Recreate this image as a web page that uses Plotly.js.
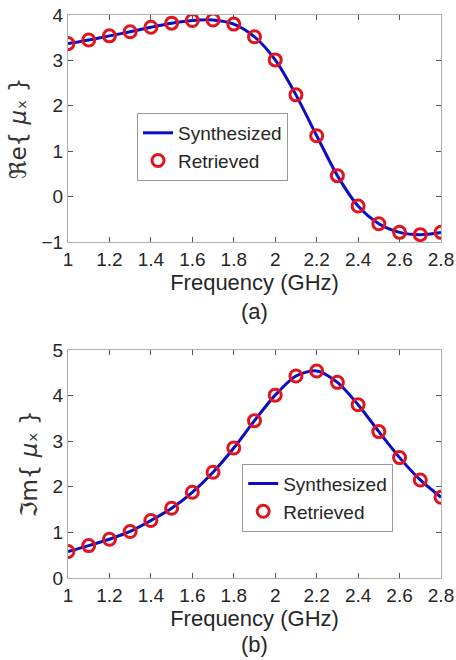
<!DOCTYPE html>
<html>
<head>
<meta charset="utf-8">
<script src="https://cdn.plot.ly/plotly-3.0.1.min.js"></script>
<style>html,body{margin:0;padding:0;background:#fff;}#chart{width:456px;height:660px;}</style>
</head>
<body>
<div id="chart"></div>
<script>
const freq = [1.0,1.1,1.2,1.3,1.4,1.5,1.6,1.7,1.8,1.9,2.0,2.1,2.2,2.3,2.4,2.5,2.6,2.7,2.8];
const reSynth = [3.37,3.45,3.54,3.63,3.73,3.82,3.88,3.89,3.80,3.52,3.01,2.24,1.34,0.46,-0.21,-0.60,-0.79,-0.84,-0.79];
const reRetr  = [3.37,3.45,3.54,3.63,3.73,3.82,3.88,3.89,3.80,3.52,3.01,2.24,1.34,0.46,-0.21,-0.60,-0.79,-0.84,-0.79];
const imSynth = [0.58,0.71,0.85,1.02,1.26,1.53,1.88,2.32,2.85,3.45,4.01,4.43,4.54,4.29,3.80,3.21,2.64,2.15,1.77];
const imRetr  = [0.58,0.71,0.85,1.02,1.26,1.53,1.88,2.32,2.85,3.45,4.01,4.43,4.54,4.29,3.80,3.21,2.64,2.15,1.77];
const xTicks = [1,1.2,1.4,1.6,1.8,2,2.2,2.4,2.6,2.8];
const xTickText = ['1','1.2','1.4','1.6','1.8','2','2.2','2.4','2.6','2.8'];
const legendNames = ['Synthesized','Retrieved'];

const lineStyle = {color:'#0c0cc4', width:3, shape:'spline', smoothing:0.8};
const markerStyle = {symbol:'circle-open', size:12, color:'#e0141e', line:{width:3, color:'#e0141e'}};

const traces = [
  {x:freq, y:reSynth, mode:'lines', name:legendNames[0], line:lineStyle, xaxis:'x', yaxis:'y', legend:'legend'},
  {x:freq, y:reRetr, mode:'markers', name:legendNames[1], marker:markerStyle, xaxis:'x', yaxis:'y', legend:'legend'},
  {x:freq, y:imSynth, mode:'lines', name:legendNames[0], line:lineStyle, xaxis:'x2', yaxis:'y2', legend:'legend2'},
  {x:freq, y:imRetr, mode:'markers', name:legendNames[1], marker:markerStyle, xaxis:'x2', yaxis:'y2', legend:'legend2'}
];

const family = 'Liberation Sans, Arial, sans-serif';
const tickFont = {family:family, size:19, color:'#262626'};
const titleFont = {family:family, size:22, color:'#262626'};
const yTitleFont = {family:'DejaVu Sans, sans-serif', size:23, color:'#333'};
const legFont = {family:family, size:19, color:'#262626'};
function xax(anchor){
  return {anchor:anchor, range:[1,2.8], tickvals:xTicks, ticktext:xTickText,
    ticks:'inside', ticklen:5, tickcolor:'#555', mirror:'ticks', showline:true, linecolor:'#b0b0b0', linewidth:1,
    showgrid:false, zeroline:false, tickfont:tickFont,
    title:{text:'Frequency (GHz)', font:titleFont, standoff:0}};
}
function yax(anchor, range, dtick, dom, title){
  return {anchor:anchor, domain:dom, range:range, dtick:dtick, tick0:0,
    ticks:'inside', ticklen:5, tickcolor:'#555', mirror:'ticks', showline:true, linecolor:'#b0b0b0', linewidth:1,
    showgrid:false, zeroline:false, tickfont:tickFont,
    title:{text:title, font:yTitleFont, standoff:8}};
}
const legendBase = {bgcolor:'#fff', bordercolor:'#999', borderwidth:1, font:legFont, xanchor:'left', yanchor:'top', tracegroupgap:0, itemwidth:30};

const layout = {
  width:456, height:660,
  margin:{l:68, r:15, t:15, b:82},
  paper_bgcolor:'#fff', plot_bgcolor:'#fff',
  font:tickFont,
  xaxis:xax('y'),
  yaxis:yax('x', [-1,4], 1, [0.597,1], 'ℜe{ <i>μ</i>ₓ }'),
  xaxis2:xax('y2'),
  yaxis2:yax('x2', [0,5], 1, [0,0.405], 'ℑm{ <i>μ</i>ₓ }'),
  legend:Object.assign({x:0.185, y:0.826}, legendBase),
  legend2:Object.assign({x:0.467, y:0.203}, legendBase),
  annotations:[
    {text:'(a)', xref:'paper', yref:'paper', x:0.501, y:0.474, showarrow:false, font:titleFont, yanchor:'middle'},
    {text:'(b)', xref:'paper', yref:'paper', x:0.501, y:-0.118, showarrow:false, font:titleFont, yanchor:'middle'}
  ],
  showlegend:true
};

Plotly.newPlot('chart', traces, layout, {displayModeBar:false, staticPlot:true});
</script>
</body>
</html>
